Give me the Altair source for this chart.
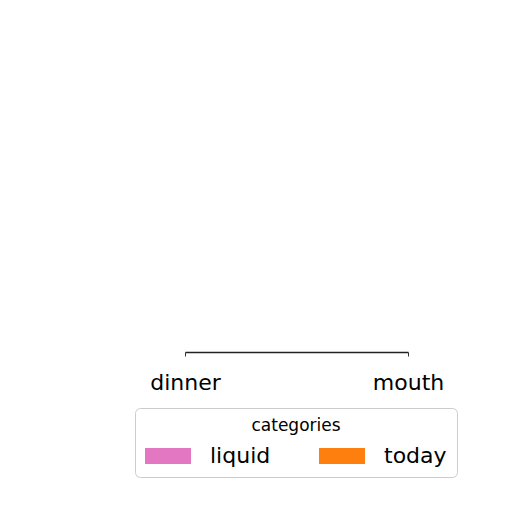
import altair as alt
import pandas as pd

categories = ["dinner", "mouth"]
series = ["liquid", "today"]
liquid_values = [0, 0]
today_values = [0, 0]
colors = ["#e377c2", "#ff7f0e"]

rows = []
for i, c in enumerate(categories):
    rows.append({"category": c, "series": "liquid", "value": liquid_values[i]})
    rows.append({"category": c, "series": "today", "value": today_values[i]})
df = pd.DataFrame(rows)

rect_path = "M-1,-0.35L1,-0.35L1,0.35L-1,0.35Z"

chart = alt.Chart(df).mark_bar(size=40).encode(
    x=alt.X("category:N", sort=categories,
            scale=alt.Scale(type="point", padding=0),
            axis=alt.Axis(title=None, labelAngle=0, labelFontSize=22,
                          labelFont="DejaVu Sans", labelColor="#000000",
                          labelPadding=16, tickSize=4, tickColor="#333333",
                          domainColor="#222222", domainWidth=1.5, grid=False)),
    y=alt.Y("value:Q", scale=alt.Scale(domain=[0, 1]), axis=None, stack=True),
    color=alt.Color("series:N", sort=series,
                    scale=alt.Scale(domain=series, range=colors),
                    legend=alt.Legend(
                        title="categories", orient="none", direction="horizontal",
                        legendX=-50, legendY=390,
                        titleFontSize=17, titleFontWeight="normal", titleFont="DejaVu Sans",
                        titleColor="#000000", titleAnchor="middle", titleAlign="center",
                        titlePadding=-2,
                        labelFontSize=22, labelFont="DejaVu Sans", labelColor="#000000",
                        labelOffset=19, columnPadding=48,
                        symbolType=rect_path, symbolSize=2116, symbolStrokeWidth=0,
                        symbolOpacity=1,
                        padding=10, strokeColor="#cccccc", fillColor="#ffffff",
                        cornerRadius=5)),
).properties(
    width=223, height=334,
    autosize=alt.AutoSizeParams(type="none"),
    padding={"left": 177, "top": 10, "right": 80, "bottom": 140},
).configure_view(stroke=None)

chart.save("out.html", embed_options={"renderer": "svg", "actions": False})
